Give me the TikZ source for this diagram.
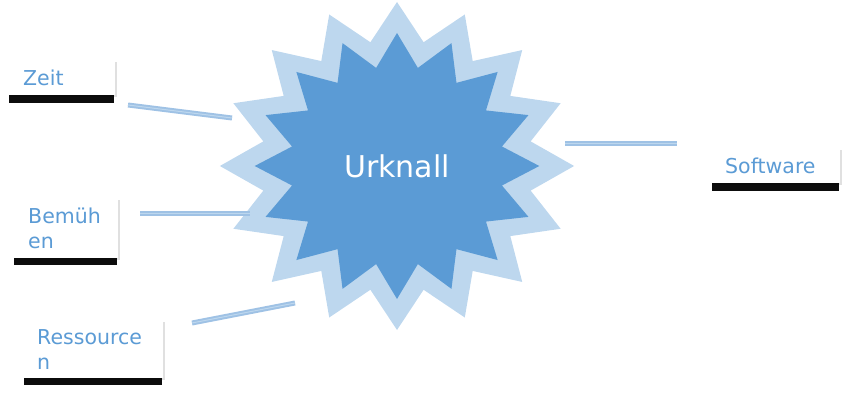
\documentclass[tikz,border=0pt]{standalone}
\usepackage{fontspec}
\setmainfont{DejaVu Sans}
\usetikzlibrary{shapes.geometric,shadows,positioning}
\definecolor{burstlight}{HTML}{BDD7EE}
\definecolor{burstdark}{HTML}{5B9BD5}
\definecolor{raycolor}{HTML}{9FC2E5}
\tikzstyle{topic} = [fill=white, text=burstdark, align=left, anchor=north west, inner xsep=15pt, inner ysep=0pt, font=\fontsize{20.5}{25}\selectfont, drop shadow={shadow xshift=1.5pt, shadow yshift=-1.5pt, opacity=0.12, fill=black}, drop shadow={shadow xshift=0pt, shadow yshift=-8pt, shadow scale=0.98, opacity=0.95, fill=black}]
\tikzstyle{ray} = [draw=raycolor, double=burstlight, double distance=1pt, line width=2pt]

\begin{document}
\begin{tikzpicture}[x=1pt, y=-1pt, every node/.style={inner sep=0pt}]
        \useasboundingbox (0,0) rectangle (849,401);

        \node[star, star points=16, star point ratio=1.3, minimum size=328pt, fill=burstlight, xscale=1.08] (glow) at (397,166) {};
        \node[star, star points=16, star point ratio=1.33, minimum size=266pt, fill=burstdark, xscale=1.07] (core) at (397,166) {};
        \node[text=white, font=\fontsize{30}{36}\selectfont] (bang) at (397,166) {Urknall};

        \node[topic, text width=77pt, minimum height=35pt] (zeit) at (8,60) {Zeit};
        \node[topic, text width=75pt, minimum height=60pt] (bemuehen) at (13,198) {Bemüh\\en};
        \node[topic, text width=111pt, minimum height=58pt] (ressourcen) at (22,320) {Ressource\\n};
        \node[topic, text width=100pt, minimum height=35pt] (software) at (710,148) {Software};

        \coordinate (zeit-out) at (128,105);
        \coordinate (zeit-in) at (232,118);
        \coordinate (bemuehen-out) at (140,213);
        \coordinate (bemuehen-in) at (250,213);
        \coordinate (ressourcen-out) at (192,323);
        \coordinate (ressourcen-in) at (295,303);
        \coordinate (software-in) at (565,144);
        \coordinate (software-out) at (677,144);

        \draw[ray] (zeit-out) -- (zeit-in);
        \draw[ray] (bemuehen-out) -- (bemuehen-in);
        \draw[ray] (ressourcen-out) -- (ressourcen-in);
        \draw[ray] (software-in) -- (software-out);
    \end{tikzpicture}
\end{document}
